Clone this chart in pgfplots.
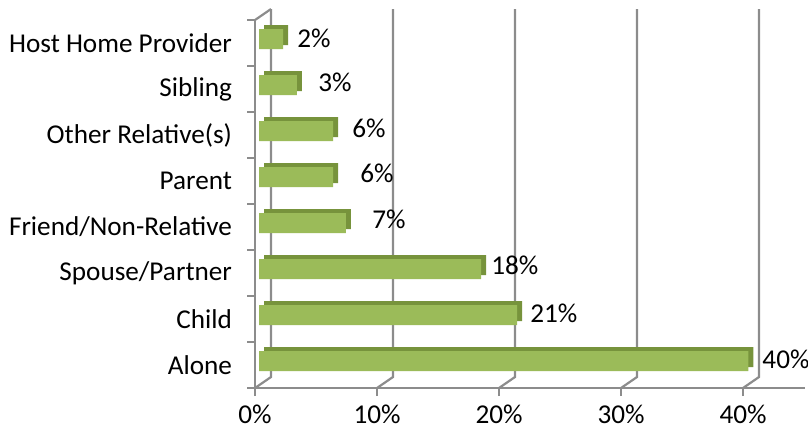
\documentclass[border=0pt]{standalone}
\usepackage{pgfplots}
\pgfplotsset{compat=1.18}
\usepackage{fontspec}
\setmainfont{Carlito}
\definecolor{barface}{HTML}{9BBB59}
\definecolor{bardark}{HTML}{77933C}
\definecolor{gridgray}{HTML}{8C8C8C}
\pgfplotstableread{
y v
1 40.1
2 21.15
3 18.2
4 7.13
5 6.07
6 6.07
7 3.1
8 1.97
}\bardata
\begin{document}
\begin{tikzpicture}
\useasboundingbox (0,0) rectangle (404pt,218pt);
\begin{axis}[
  at={(127.5pt,24pt)}, anchor=south west,
  scale only axis, width=275pt, height=184pt,
  xmin=0, xmax=45.08, ymin=0.5, ymax=8.5,
  axis x line*=bottom, axis y line*=left,
  axis line style={draw=gridgray, line width=1.1pt, -},
  xtick={0,10,20,30,40}, xticklabels={0\%,10\%,20\%,30\%,40\%},
  ytick={1,...,8},
  yticklabels={Alone,Child,Spouse/Partner,Friend/Non-Relative,Parent,Other Relative(s),Sibling,Host Home Provider},
  minor ytick={0.5,1.5,...,8.5},
  tick align=outside, major tick length=4pt, minor tick length=4pt,
  major y tick style={draw=none},
  every tick/.style={draw=gridgray, line width=1.1pt},
  tick label style={font=\fontsize{13.6}{15}\selectfont, text=black},
  yticklabel style={xshift=-4pt},
  xticklabel style={yshift=-1pt},
  clip=false,
  /pgf/number format/assume math mode=true,
]
\pgfplotsinvokeforeach{0,10,20,30,40}{
  \draw[gridgray, line width=1.1pt] ([xshift=8pt,yshift=5.5pt]axis cs:#1,8.5) -- ([xshift=8pt,yshift=5.5pt]axis cs:#1,0.5) -- (axis cs:#1,0.5);
}
\draw[gridgray, line width=1.1pt] (axis cs:0,8.5) -- ([xshift=8pt,yshift=5.5pt]axis cs:0,8.5);
\addplot[xbar, bar width=10pt, bar shift=4pt, xshift=4.5pt, fill=bardark, draw=none] table[x=v, y=y] {\bardata};
\addplot[xbar, bar width=10pt, bar shift=2pt, xshift=2pt, fill=barface, draw=none] table[x=v, y=y] {\bardata};
\addplot[draw=none, mark=none, nodes near coords, point meta=explicit symbolic,
  nodes near coords style={anchor=west, inner sep=0pt, font=\fontsize{13.6}{15}\selectfont, text=black}]
  table[meta=lab] {
x y lab
41.56 1.13 40\%
22.54 2.12 21\%
19.34 3.16 18\%
9.59 4.17 7\%
8.61 5.16 6\%
7.95 6.15 6\%
5.16 7.14 3\%
3.44 8.11 2\%
};
\end{axis}
\end{tikzpicture}
\end{document}
